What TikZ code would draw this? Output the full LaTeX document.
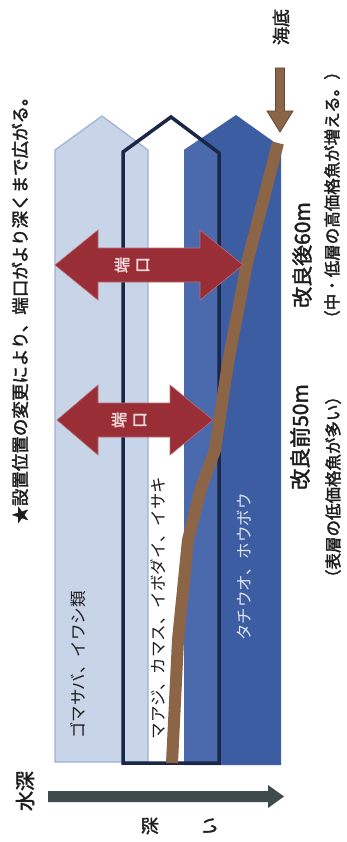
\documentclass[tikz,border=0pt]{standalone}
\usepackage{fontspec}
\newfontfamily\jp{Noto Sans CJK JP}
\newfontfamily\jpb[FakeBold=2]{Noto Sans CJK JP}
\definecolor{lightA}{HTML}{C8D4E8}
\definecolor{edgeA}{HTML}{9EB2D4}
\definecolor{blueC}{HTML}{3D5DA2}
\definecolor{blueCl}{HTML}{4B6AAE}
\definecolor{navy}{HTML}{1A2747}
\definecolor{arrowred}{HTML}{9A2E37}
\definecolor{seabed}{HTML}{8B6546}
\definecolor{seabedline}{HTML}{5E4A3C}
\definecolor{depthgray}{HTML}{3E4B4C}
\definecolor{txt}{HTML}{1E1E1E}
\definecolor{labelC}{HTML}{DCE4F4}
\definecolor{arrowtxt}{HTML}{F2DCDC}
\begin{document}
\begin{tikzpicture}[x=1pt,y=-1pt,
  vlabel/.style={rotate=90, inner sep=0pt, text=txt},
  collabel/.style={vlabel, font=\jp\fontsize{16.5}{16.5}\selectfont},
  boldlabel/.style={vlabel, font=\jpb\fontsize{#1}{#1}\selectfont},
  arrowlabel/.style={vlabel, text=arrowtxt, font=\jpb\fontsize{16}{16}\selectfont},
  redarrow/.style={fill=arrowred, draw=arrowred!70!white, line width=0.6pt}]
\useasboundingbox (0,0) rectangle (346,842);
\fill[white] (0,0) rectangle (346,842);

% bar A (light)
\fill[lightA] (55,762) -- (55,150) -- (102,116) -- (148,150) -- (148,762) -- cycle;
\draw[edgeA, line width=1.2pt] (55,762) -- (55,150) -- (102,116) -- (148,150) -- (148,762) -- cycle;
% bar C (dark blue)
\fill[blueC] (184,765) -- (184,150) -- (236,115) -- (281,147) -- (281,765) -- cycle;
\begin{scope}
  \clip (123,763) -- (123,152) -- (171,117) -- (219,153) -- (219,763) -- cycle;
  \fill[blueCl] (184,765) -- (184,150) -- (236,115) -- (281,147) -- (281,765) -- cycle;
\end{scope}
% bar B (outline)
\draw[navy, line width=3.5pt, line join=miter] (123,763) -- (123,152) -- (171,117) -- (219,153) -- (219,763) -- cycle;

% seabed line
\draw[seabed, line width=12pt, line join=round] (278,143) -- (247,263) -- (228,363) -- (215,450) -- (201,488) -- (188,540) -- (178,640) -- (172,763);

% red double arrows
\draw[redarrow] (55,265) -- (98,230) -- (98,248) -- (200,248) -- (200,230) -- (243,265) -- (200,300) -- (200,282) -- (98,282) -- (98,300) -- cycle;
\draw[redarrow] (57,420) -- (98,385) -- (98,403) -- (170,403) -- (170,385) -- (213,420) -- (170,455) -- (170,437) -- (98,437) -- (98,455) -- cycle;
\node[arrowlabel] (tan1) at (122,265) {端};
\node[arrowlabel] (kou1) at (143,265) {口};
\node[arrowlabel] (tan2) at (119,420) {端};
\node[arrowlabel] (kou2) at (140,420) {口};

% top brown arrow
\draw[fill=seabed, draw=seabedline, line width=0.8pt] (275.5,68) -- (284.5,68) -- (284.5,111) -- (293,111) -- (280,132) -- (267,111) -- (275.5,111) -- cycle;
\node[boldlabel=18] (kaitei) at (281,27) {海底};

% depth arrow
\fill[depthgray] (48,791) -- (268,791) -- (268,785) -- (284,796.5) -- (268,808) -- (268,802) -- (48,802) -- cycle;
\node[boldlabel=20] (suishin) at (25,791) {水深};
\node[boldlabel=18] (fuka) at (150,826) {深};
\node[boldlabel=18] (i) at (210,826) {い};

% texts
\node[boldlabel=17.5] (headline) at (20,306) {★設置位置の変更により、端口がより深くまで広がる。};
\node[boldlabel=21] (after) at (302,255) {改良後60m};
\node[boldlabel=16.5] (afternote) at (332,195) {（中・低層の高価格魚が増える。）};
\node[boldlabel=21] (before) at (300,437) {改良前50m};
\node[boldlabel=16.5] (beforenote) at (333,487) {（表層の低価格魚が多い）};

\node[collabel] (labA) at (78,665) {ゴマサバ、イワシ類};
\node[collabel] (labB) at (158,608) {マアジ、カマス、イボダイ、イサキ};
\node[collabel, text=labelC] (labC) at (244,567) {タチウオ、ホウボウ};
\end{tikzpicture}
\end{document}
